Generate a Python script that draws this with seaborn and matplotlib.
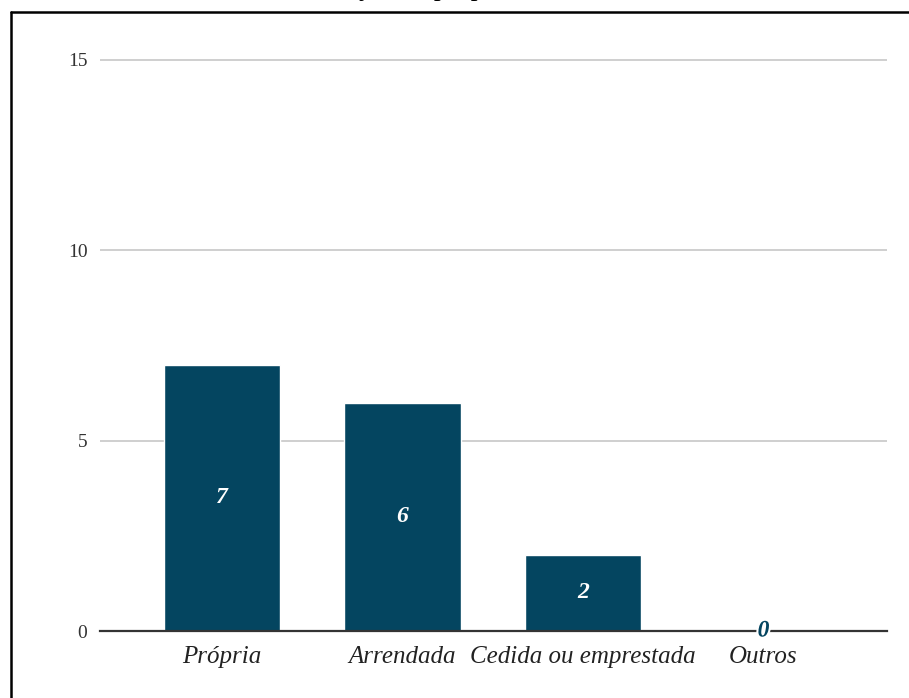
import matplotlib
matplotlib.use("Agg")
import matplotlib.pyplot as plt
import seaborn as sns
import pandas as pd
from matplotlib.lines import Line2D
import matplotlib.patheffects as pe

categories = ["Própria", "Arrendada", "Cedida ou emprestada", "Outros"]
values = [7, 6, 2, 0]
yticks = [0, 5, 10, 15]
title = "Situação da propriedade"

BAR = "#044560"

sns.set_theme(style="white")
plt.rcParams['font.family'] = ['Liberation Serif', 'DejaVu Serif']

W, H = 909, 698
fig = plt.figure(figsize=(W / 100, H / 100), dpi=100)
ax = fig.add_axes([100 / W, 1 - 631 / H, 787 / W, 581 / H])

df = pd.DataFrame({"cat": categories, "val": values})
sns.barplot(data=df, x="cat", y="val", color=BAR, saturation=1, width=0.643, ax=ax)

ax.set_xlim(-0.676, 3.684)
ax.set_ylim(0, 15 + 10 / 38.07)
ax.set_yticks(yticks)
ax.set_yticklabels([str(t) for t in yticks], fontsize=14, color="#333333")
ax.set_xlabel("")
ax.set_ylabel("")
ax.tick_params(axis="y", length=0, pad=9)
ax.tick_params(axis="x", length=0, pad=11)
for lab in ax.get_xticklabels():
    lab.set_fontstyle("italic")
    lab.set_fontsize(18)
    lab.set_color("#222222")

ax.yaxis.grid(True, color="#cccccc", linewidth=1.3)
ax.xaxis.grid(False)
ax.set_axisbelow(True)
for s in ["top", "right", "left"]:
    ax.spines[s].set_visible(False)
ax.spines["bottom"].set_color("#333333")
ax.spines["bottom"].set_linewidth(1.6)
ax.spines["bottom"].set_zorder(2.5)

cont = ax.containers[0]
texts = ax.bar_label(cont, labels=[str(v) for v in values], label_type="center",
                     fontsize=17, fontweight="bold", fontstyle="italic", color="white")
for t, v in zip(texts, values):
    if v == 0:
        t.set_color(BAR)
        t.set_zorder(5)
        t.set_path_effects([pe.withStroke(linewidth=3, foreground="white")])

# frame
fx = 11 / W
fy = 1 - 12 / H
fig.add_artist(Line2D([fx, fx], [0, fy], transform=fig.transFigure, color="black", linewidth=1.8))
fig.add_artist(Line2D([fx, 1.01], [fy, fy], transform=fig.transFigure, color="black", linewidth=1.8))

fig.text(432 / W, 1 + 5 / H, title, ha="center", va="baseline", fontsize=20, color="black")

fig.savefig("out.png", dpi=100, facecolor="white")
